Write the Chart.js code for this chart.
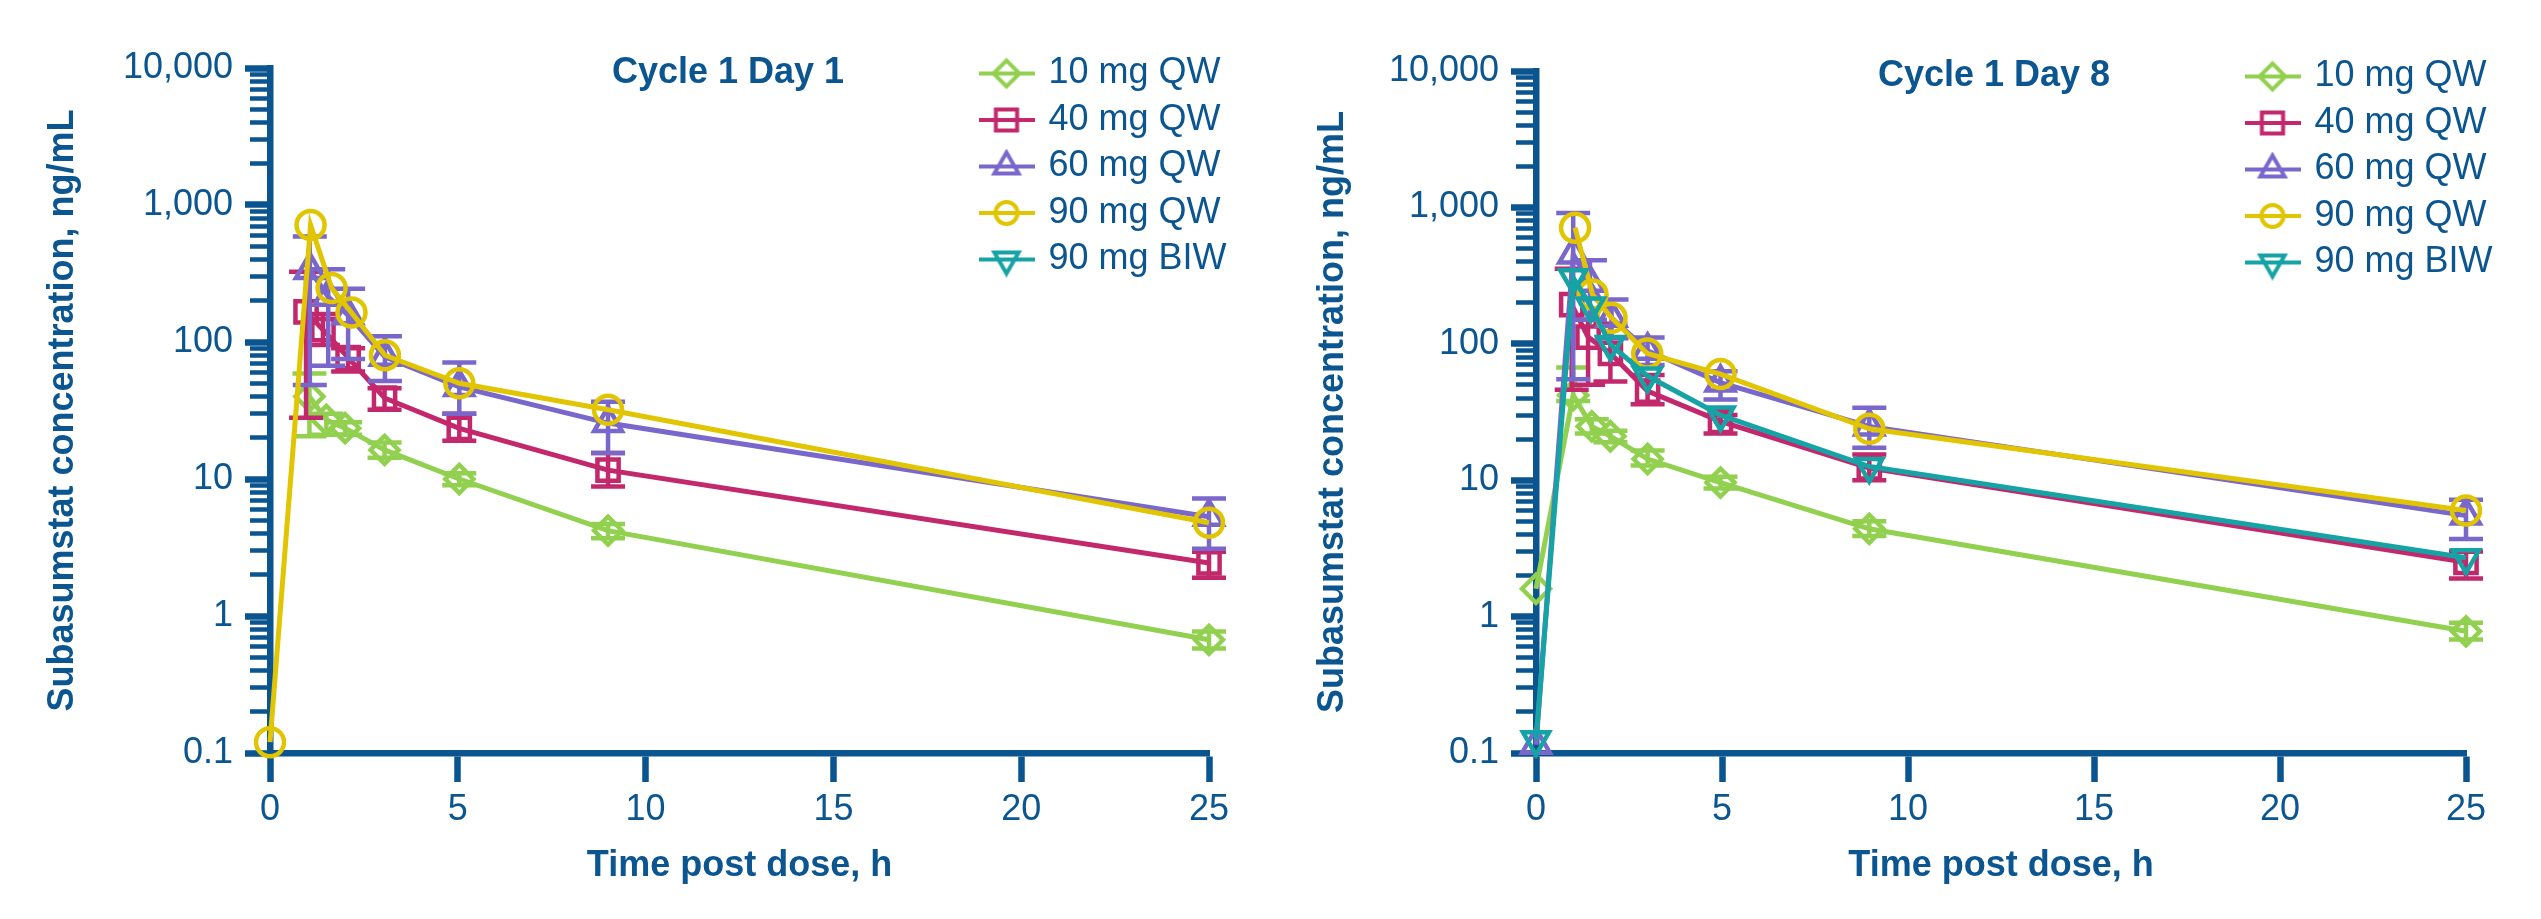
<!DOCTYPE html>
<html>
<head>
<meta charset="utf-8">
<title>Subasumstat concentration over time, Cycle 1 Day 1 and Day 8</title>
<script src="https://cdn.jsdelivr.net/npm/chart.js@4.4.1/dist/chart.umd.min.js"></script>
<style>
  html, body { margin: 0; padding: 0; background: #fff; }
  .wrap { position: relative; width: 2541px; height: 919px; }
  canvas { position: absolute; top: 0; }
  #day1 { left: 0; }
  #day8 { left: 1270px; }
</style>
</head>
<body>
<div class="wrap">
  <canvas id="day1" width="1270" height="919"></canvas>
  <canvas id="day8" width="1271" height="919"></canvas>
</div>
<script>
/* Subasumstat PK — two log-scale panels, mean with error bars per dose group. */

const INK = "#0b5591";
const AXIS = "#0a5590";
const FONT = '"Liberation Sans", Arial, sans-serif';

const doseLabels = ["10 mg QW", "40 mg QW", "60 mg QW", "90 mg QW", "90 mg BIW"];
const doseColors = ["#92d050", "#c2286b", "#7a67cc", "#e0c500", "#15a3a6"];

const xTitle = "Time post dose, h";
const yTitle = "Subasumstat concentration, ng/mL";
const xTickValues = [0, 5, 10, 15, 20, 25];
const yTickValues = [0.1, 1, 10, 100, 1000, 10000];
const yTickLabels = ["0.1", "1", "10", "100", "1,000", "10,000"];

// ---- Cycle 1 Day 1 (time h, mean ng/mL, error bar low / high) ----
const d1Time10 = [1.05, 1.5, 2.0, 3.05, 5.04, 9, 25];
const d1Conc10 = [40, 27, 23.5, 16.3, 10, 4.2, 0.67];
const d1Low10 = [20.5, 21, 21, 14.3, 9, 3.7, 0.58];
const d1High10 = [59, 30, 26, 18.5, 11, 4.7, 0.77];

const d1Time40 = [0.96, 1.41, 2.08, 3.05, 5.04, 9, 25];
const d1Conc40 = [166, 123, 77, 39, 23.4, 11.6, 2.44];
const d1Low40 = [28, 95, 61, 32, 19, 8.8, 1.9];
const d1High40 = [325, 160, 90, 46, 30, 15.5, 2.95];

const d1Time60 = [1.06, 1.55, 2.08, 3.06, 5.04, 9, 25];
const d1Conc60 = [336, 214, 157, 78, 47, 25.6, 5.3];
const d1Low60 = [48.5, 67, 75, 52, 30, 15.5, 3.1];
const d1High60 = [588, 340, 245, 110, 71, 36.7, 7.2];

const d1Time90 = [0, 1.08, 1.64, 2.17, 3.06, 5.04, 9, 25];
const d1Conc90 = [0.12, 714, 248, 164, 80, 50, 32, 4.8];

// ---- Cycle 1 Day 8 ----
const d8Time10 = [0, 1.0, 1.5, 2.0, 3.0, 4.96, 8.96, 25];
const d8Conc10 = [1.6, 42, 24.8, 21, 14.3, 9.6, 4.4, 0.78];
const d8Low10 = [null, 38, 22, 19, 12.8, 8.7, 3.9, 0.68];
const d8High10 = [null, 67, 28, 23, 16.5, 10.6, 5.0, 0.9];

const d8Time40 = [0.96, 1.4, 2.0, 3.0, 4.96, 8.96, 25];
const d8Conc40 = [194, 112, 85, 45, 27, 12.3, 2.5];
const d8Low40 = [46, 50, 53, 36, 22, 10, 1.9];
const d8High40 = [355, 150, 140, 59, 30, 15.4, 3.0];

const d8Time60 = [0, 1.0, 1.45, 2.03, 3.0, 4.96, 8.96, 25];
const d8Conc60 = [0.115, 452, 280, 155, 89, 52, 24.8, 5.5];
const d8Low60 = [null, 55, 150, 110, 70, 39, 17.3, 3.7];
const d8High60 = [null, 910, 410, 211, 111, 63, 34, 7.2];

const d8Time90 = [1.05, 1.52, 2.03, 2.99, 4.96, 8.96, 25];
const d8Conc90 = [710, 230, 155, 85, 60, 23.8, 6.0];

const d8TimeBiw = [0, 1.0, 1.47, 2.0, 3.0, 4.96, 8.96, 25];
const d8ConcBiw = [0.125, 305, 189, 99, 58, 30, 12.6, 2.7];

const day1Series = [
  { t: d1Time10, c: d1Conc10, lo: d1Low10, hi: d1High10 },
  { t: d1Time40, c: d1Conc40, lo: d1Low40, hi: d1High40 },
  { t: d1Time60, c: d1Conc60, lo: d1Low60, hi: d1High60 },
  { t: d1Time90, c: d1Conc90 },
  { t: [], c: [] }, // BIW arm has no Day 1 profile, legend entry only
];
const day8Series = [
  { t: d8Time10, c: d8Conc10, lo: d8Low10, hi: d8High10 },
  { t: d8Time40, c: d8Conc40, lo: d8Low40, hi: d8High40 },
  { t: d8Time60, c: d8Conc60, lo: d8Low60, hi: d8High60 },
  { t: d8Time90, c: d8Conc90 },
  { t: d8TimeBiw, c: d8ConcBiw },
];

// marker look per dose group (plot radius, legend radius)
const markers = [
  { style: "rectRot", rotation: 0, radius: 14, legendRadius: 13 },
  { style: "rect", rotation: 0, radius: 15, legendRadius: 15 },
  { style: "triangle", rotation: 0, radius: 16, legendRadius: 14 },
  { style: "circle", rotation: 0, radius: 14, legendRadius: 11 },
  { style: "triangle", rotation: 180, radius: 15, legendRadius: 14 },
];

function isDecade(v) {
  if (v == null) return true;
  const l = Math.log10(v);
  return Math.abs(l - Math.round(l)) < 1e-9;
}

function buildDatasets(series) {
  const n = series.length;
  const out = [];
  series.forEach((s, i) => {
    const color = doseColors[i];
    const mk = markers[i];
    const bars = [];
    if (s.lo) {
      s.t.forEach((x, k) => {
        if (s.lo[k] == null) return;
        bars.push({ x, y: s.lo[k] }, { x, y: s.hi[k] }, { x, y: null });
      });
    }
    out.push({
      label: doseLabels[i] + " error",
      data: bars,
      borderColor: color,
      borderWidth: 4.5,
      showLine: true,
      spanGaps: false,
      pointStyle: "line",
      pointRadius: 17,
      pointBorderWidth: 4.5,
      pointBorderColor: color,
      pointBackgroundColor: color,
      clip: false,
      order: 2 * (n - i) + 1,
    });
    out.push({
      label: doseLabels[i],
      data: s.t.map((x, k) => ({ x, y: s.c[k] })),
      borderColor: color,
      borderWidth: 5,
      tension: 0,
      pointStyle: mk.style,
      pointRotation: mk.rotation,
      pointRadius: mk.radius,
      pointBorderWidth: 4.5,
      pointBorderColor: color,
      pointBackgroundColor: "rgba(0,0,0,0)",
      clip: false,
      order: 2 * (n - i),
    });
  });
  return out;
}

// legend swatch: short line with the hollow marker on it
function legendIcon(i) {
  const cv = document.createElement("canvas");
  cv.width = 56; cv.height = 36;
  const g = cv.getContext("2d");
  g.strokeStyle = doseColors[i];
  g.lineWidth = 4;
  g.beginPath(); g.moveTo(0, 18); g.lineTo(56, 18); g.stroke();
  g.fillStyle = "rgba(0,0,0,0)";
  const mk = markers[i];
  Chart.helpers.drawPoint(g, { pointStyle: mk.style, rotation: mk.rotation, radius: mk.legendRadius, borderWidth: 4 }, 28, 18);
  return cv;
}

// panel heading sits inside the plot area, like the source figure
const panelTitle = {
  id: "panelTitle",
  afterDraw(chart, args, opts) {
    const { ctx, chartArea } = chart;
    ctx.save();
    ctx.font = "bold 36px " + FONT;
    ctx.fillStyle = INK;
    ctx.textAlign = "center";
    ctx.textBaseline = "middle";
    ctx.fillText(opts.text, chartArea.left + opts.dx, chartArea.top + opts.dy);
    ctx.restore();
  },
};

// move the chartArea legend to the top-right corner
const legendSpot = {
  id: "legendSpot",
  afterLayout(chart, args, opts) {
    const lg = chart.legend;
    if (!lg) return;
    lg.left = chart.chartArea.left + opts.dx;
    lg.top = chart.chartArea.top + opts.dy;
    lg.right = chart.width;
    lg.bottom = chart.height;
  },
};

function makeChart(canvasId, series, cfg) {
  return new Chart(document.getElementById(canvasId).getContext("2d"), {
    type: "line",
    data: { datasets: buildDatasets(series) },
    plugins: [panelTitle, legendSpot],
    options: {
      responsive: false,
      animation: false,
      events: [],
      layout: { padding: { left: 0, top: cfg.top, right: cfg.right, bottom: 0 } },
      scales: {
        x: {
          type: "linear",
          min: 0,
          max: 25,
          afterBuildTicks: (s) => { s.ticks = xTickValues.map((v) => ({ value: v })); },
          afterFit: (s) => { s.height = cfg.xAxisHeight; },
          border: { display: true, color: AXIS, width: 6.5 },
          grid: { display: true, drawOnChartArea: false, drawTicks: true, tickLength: 29, tickWidth: 6.5, tickColor: AXIS },
          ticks: { color: INK, font: { family: FONT, size: 36 }, padding: 6, maxRotation: 0, autoSkip: false },
          title: {
            display: true, text: xTitle, color: INK,
            font: { family: FONT, size: 36, weight: "bold" },
            padding: { top: 0, bottom: 31 },
          },
        },
        y: {
          type: "logarithmic",
          min: 0.1,
          max: 10000,
          afterBuildTicks: (s) => {
            const ticks = [];
            yTickValues.forEach((d, k) => {
              ticks.push({ value: d, major: true });
              if (k === yTickValues.length - 1) return;
              for (let m = 2; m <= 9; m++) ticks.push({ value: Number((d * m).toPrecision(6)), major: false });
            });
            s.ticks = ticks;
          },
          afterFit: (s) => { s.width = cfg.yAxisWidth; },
          border: { display: true, color: AXIS, width: 6.5 },
          grid: {
            display: true,
            drawOnChartArea: false,
            drawTicks: true,
            tickLength: 25,
            tickColor: AXIS,
            tickWidth: (c) => (isDecade(c.tick && c.tick.value) ? 6.5 : 4.5),
            tickBorderDash: (c) => (isDecade(c.tick && c.tick.value) ? [] : [30, 200]),
            tickBorderDashOffset: (c) => (isDecade(c.tick && c.tick.value) ? 0 : 225),
          },
          ticks: {
            color: INK,
            font: { family: FONT, size: 36 },
            padding: 12,
            autoSkip: false,
            callback: (v) => {
              const k = yTickValues.indexOf(v);
              return k >= 0 ? yTickLabels[k] : "";
            },
          },
          title: {
            display: true, text: yTitle, color: INK,
            font: { family: FONT, size: 36, weight: "bold" },
            padding: { top: 41, bottom: 0 },
          },
        },
      },
      plugins: {
        tooltip: { enabled: false },
        panelTitle: { text: cfg.title, dx: 458, dy: 5 },
        legendSpot: { dx: 702, dy: -23 },
        legend: {
          display: true,
          position: "chartArea",
          align: "start",
          labels: {
            usePointStyle: true,
            pointStyleWidth: 48,
            padding: 10.5,
            color: INK,
            font: { family: FONT, size: 36 },
            generateLabels: () => doseLabels.map((text, i) => ({
              text,
              pointStyle: legendIcon(i),
              fillStyle: "rgba(0,0,0,0)",
              strokeStyle: "rgba(0,0,0,0)",
              lineWidth: 0,
              hidden: false,
              fontColor: INK,
              datasetIndex: 2 * i + 1,
            })),
          },
        },
      },
    },
  });
}

makeChart("day1", day1Series, { title: "Cycle 1 Day 1", top: 68, right: 61, yAxisWidth: 270, xAxisHeight: 166 });
makeChart("day8", day8Series, { title: "Cycle 1 Day 8", top: 71, right: 75, yAxisWidth: 266, xAxisHeight: 166 });
</script>
</body>
</html>
